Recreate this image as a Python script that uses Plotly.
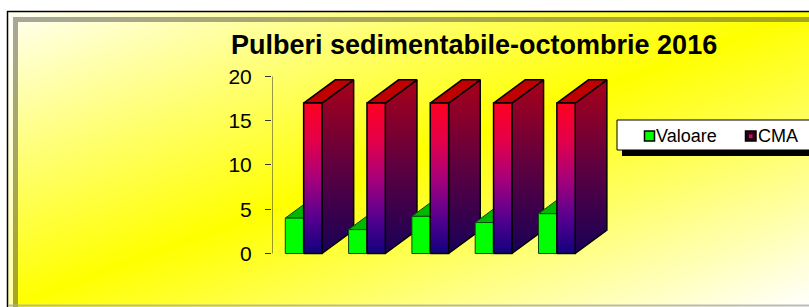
import base64
import plotly.graph_objects as go

# ---------------- data ----------------
categories = ["1", "2", "3", "4", "5"]
valoare = [4.0, 2.7, 4.2, 3.5, 4.5]
cma = [17, 17, 17, 17, 17]
series_names = ["Valoare", "CMA"]
y_ticks = [0, 5, 10, 15, 20]
title_text = "Pulberi sedimentabile-octombrie 2016"

W, H = 809, 307
FONT = "Liberation Sans, Arial, sans-serif"

def px(x):
    return x / W

def py(y):
    return 1 - y / H

# 3D geometry (in axis units)
BAR_W = 0.29
DX = 0.5
DY = 2.63

fig = go.Figure()

def face(xs, ys, fillcolor=None, grad=None, line_color="black", lw=1.5):
    kw = dict(x=xs + [xs[0]], y=ys + [ys[0]], mode="lines", fill="toself",
              line=dict(color=line_color, width=lw), hoverinfo="skip", showlegend=False)
    if grad is not None:
        kw["fillgradient"] = dict(type="vertical", colorscale=grad)
        kw["fillcolor"] = grad[-1][1]
    else:
        kw["fillcolor"] = fillcolor
    fig.add_trace(go.Scatter(**kw))

def box(x0, x1, v, front, side, top, line_color, lw):
    face([x1, x1 + DX, x1 + DX, x1], [0, DY, v + DY, v],
         fillcolor=side if isinstance(side, str) else None,
         grad=side if not isinstance(side, str) else None, line_color=line_color, lw=lw)
    face([x0, x1, x1 + DX, x0 + DX], [v, v, v + DY, v + DY], fillcolor=top,
         line_color=line_color, lw=lw)
    face([x0, x1, x1, x0], [0, 0, v, v],
         fillcolor=front if isinstance(front, str) else None,
         grad=front if not isinstance(front, str) else None, line_color=line_color, lw=lw)

red_front = [[0, "#12007e"], [0.25, "#5a0090"], [0.5, "#a8007a"], [0.75, "#e4004a"], [1, "#ff0020"]]
red_side = [[0, "#180058"], [0.5, "#5e0040"], [1, "#a8001a"]]

for k, cat in enumerate(categories):
    v = valoare[k]
    c = cma[k]
    box(k - BAR_W, k, v, "#00ff00", "#009a00", "#00b800", "#0a4a0a", 1)
    box(k, k + BAR_W, c, red_front, red_side, "#c00000", "black", 1.5)

# y axis line (value axis from 0 to 20)
fig.add_shape(type="line", xref="x", yref="y", x0=-0.5, x1=-0.5, y0=y_ticks[0], y1=y_ticks[-1],
              line=dict(color="#333333", width=1))

# ---------------- background gradient ----------------
bw, bh = W - 7, H - 11
svg = (f'<svg xmlns="http://www.w3.org/2000/svg" width="{bw}" height="{bh}" '
       f'viewBox="0 0 {bw} {bh}" preserveAspectRatio="none">'
       '<defs><linearGradient id="g" x1="0" y1="0" x2="1" y2="1">'
       '<stop offset="0" stop-color="#fffff4"/>'
       '<stop offset="0.5" stop-color="#ffff00"/>'
       '<stop offset="1" stop-color="#ffffff"/>'
       '</linearGradient></defs>'
       f'<rect width="{bw}" height="{bh}" fill="url(#g)"/></svg>')
src = "data:image/svg+xml;base64," + base64.b64encode(svg.encode()).decode()

images = [dict(source=src, xref="paper", yref="paper", x=px(7), y=py(11),
               sizex=bw / W, sizey=bh / H, xanchor="left", yanchor="top",
               sizing="stretch", layer="below")]

shapes = []
shapes.append(dict(type="rect", xref="paper", yref="paper", x0=px(8), x1=px(W + 2), y0=py(12), y1=py(17),
                   fillcolor="rgba(255,255,255,0.65)", line=dict(width=0), layer="above"))
shapes.append(dict(type="rect", xref="paper", yref="paper", x0=px(8), x1=px(13), y0=py(17), y1=py(H + 2),
                   fillcolor="rgba(255,255,255,0.65)", line=dict(width=0), layer="above"))
shapes.append(dict(type="rect", xref="paper", yref="paper", x0=px(13), x1=px(W + 2), y0=py(17), y1=py(22),
                   fillcolor="rgba(60,60,60,0.45)", line=dict(width=0), layer="above"))
shapes.append(dict(type="rect", xref="paper", yref="paper", x0=px(13), x1=px(18), y0=py(22), y1=py(H + 2),
                   fillcolor="rgba(60,60,60,0.45)", line=dict(width=0), layer="above"))
shapes.append(dict(type="line", xref="paper", yref="paper", x0=px(7), x1=px(W + 2), y0=py(11.5), y1=py(11.5),
                   line=dict(color="black", width=1.5), layer="above"))
shapes.append(dict(type="line", xref="paper", yref="paper", x0=px(7.5), x1=px(7.5), y0=py(11), y1=py(H + 2),
                   line=dict(color="black", width=1.5), layer="above"))
shapes.append(dict(type="line", xref="paper", yref="paper", x0=px(8), x1=px(W + 2), y0=py(305.5), y1=py(305.5),
                   line=dict(color="rgba(170,170,170,0.8)", width=2), layer="above"))

# legend box with shadow
shapes.append(dict(type="rect", xref="paper", yref="paper", x0=px(622), x1=px(W + 8), y0=py(126), y1=py(156),
                   fillcolor="black", line=dict(width=0), layer="above"))
shapes.append(dict(type="rect", xref="paper", yref="paper", x0=px(617), x1=px(W + 3), y0=py(120), y1=py(150),
                   fillcolor="white", line=dict(color="black", width=1), layer="above"))
shapes.append(dict(type="rect", xref="paper", yref="paper", x0=px(644.5), x1=px(654.5), y0=py(131), y1=py(141),
                   fillcolor="#00ff00", line=dict(color="black", width=1.5), layer="above"))
shapes.append(dict(type="rect", xref="paper", yref="paper", x0=px(745.5), x1=px(756), y0=py(131), y1=py(141),
                   fillcolor="#2a0018", line=dict(color="black", width=1.5), layer="above"))
shapes.append(dict(type="rect", xref="paper", yref="paper", x0=px(749), x1=px(752.5), y0=py(134.5), y1=py(138),
                   fillcolor="#e0005a", line=dict(width=0), layer="above"))

annotations = [
    dict(text=f"<b>{title_text}</b>", xref="paper", yref="paper", x=px(473.5), y=py(45),
         xanchor="center", yanchor="middle", showarrow=False,
         font=dict(family=FONT, size=27, color="black")),
    dict(text=series_names[0], xref="paper", yref="paper", x=px(654), y=py(136),
         xanchor="left", yanchor="middle", showarrow=False,
         font=dict(family=FONT, size=18, color="black")),
    dict(text=series_names[1], xref="paper", yref="paper", x=px(756), y=py(136),
         xanchor="left", yanchor="middle", showarrow=False,
         font=dict(family=FONT, size=18, color="black")),
]

PX_CAT = 63.3
PX_VAL = 8.85
y_lo, y_hi = -0.5, 20.5
fig.update_layout(
    width=W, height=H,
    autosize=False,
    margin=dict(l=0, r=0, t=0, b=0, pad=0),
    paper_bgcolor="white",
    plot_bgcolor="rgba(0,0,0,0)",
    showlegend=False,
    images=images,
    shapes=shapes,
    annotations=annotations,
    xaxis=dict(domain=[272 / W, 1], range=[-0.5, -0.5 + (W - 272) / PX_CAT],
               visible=False, fixedrange=True, automargin=False),
    yaxis=dict(domain=[(H - (253.5 - y_lo * PX_VAL)) / H, (H - (253.5 - y_hi * PX_VAL)) / H],
               range=[y_lo, y_hi], tickvals=y_ticks, ticktext=[str(t) for t in y_ticks],
               ticks="outside", ticklen=6, tickcolor="#333333", tickwidth=1,
               showline=False, showgrid=False, zeroline=False, automargin=False,
               ticklabelstandoff=9,
               tickfont=dict(family=FONT, size=21, color="black")),
)

fig.write_html(
    "out.html",
    config={"responsive": False, "displayModeBar": False},
    post_script="document.body.style.margin='0';document.body.style.overflow='hidden';"
                "document.documentElement.style.overflow='hidden';",
)
